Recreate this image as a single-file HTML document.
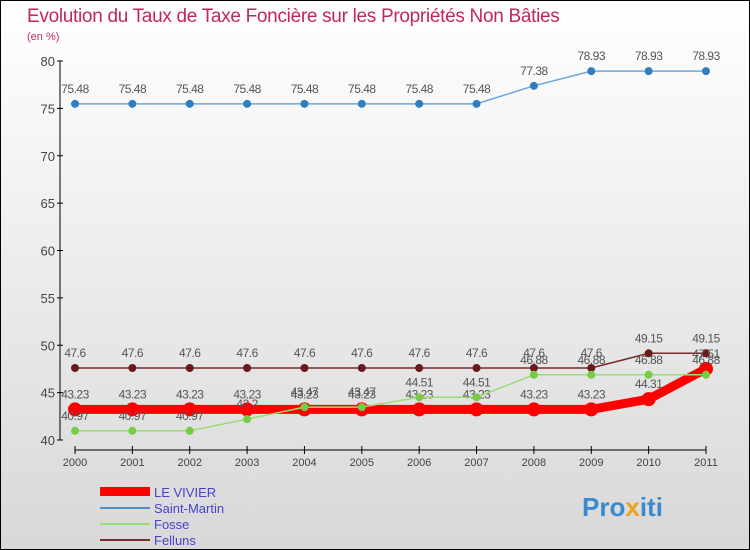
<!DOCTYPE html>
<html><head><meta charset="utf-8"><style>
body{margin:0}
#c{width:750px;height:550px;position:relative;box-sizing:border-box;border:1px solid #000;background:linear-gradient(#fff,#d8d8d8);font-family:"Liberation Sans",sans-serif;overflow:hidden}
</style></head><body>
<div id="c">
<svg id="s" width="750" height="550" style="position:absolute;left:-1px;top:-1px">
<text x="27" y="22" font-size="19" fill="#c02858" letter-spacing="-0.3">Evolution du Taux de Taxe Foncière sur les Propriétés Non Bâties</text>
<text x="27" y="40" font-size="11" fill="#c0305a">(en %)</text>
<g id="axes"></g><g id="series"></g>
<g>
<rect x="100" y="487" width="50" height="9" fill="#f00"/>
<text x="154" y="497" font-size="13" fill="#4444cc">LE VIVIER</text>
<line x1="100" y1="508" x2="150" y2="508" stroke="#4d8fc8" stroke-width="2"/>
<text x="154" y="513" font-size="13" fill="#4444cc">Saint-Martin</text>
<line x1="100" y1="524" x2="150" y2="524" stroke="#99dd77" stroke-width="2"/>
<text x="154" y="529" font-size="13" fill="#4444cc">Fosse</text>
<line x1="100" y1="540" x2="150" y2="540" stroke="#7a2a2a" stroke-width="2"/>
<text x="154" y="545" font-size="13" fill="#4444cc">Felluns</text>
</g>
<text x="582" y="516" font-size="26" font-weight="bold" fill="#3a8ad0">Pro<tspan fill="#f0a020">x</tspan>iti</text>
</svg>
</div>
<script>
const years=[2000,2001,2002,2003,2004,2005,2006,2007,2008,2009,2010,2011];
const yTicks=[40,45,50,55,60,65,70,75,80];
const leVivier=[43.23,43.23,43.23,43.23,43.23,43.23,43.23,43.23,43.23,43.23,44.31,47.51];
const saintMartin=[75.48,75.48,75.48,75.48,75.48,75.48,75.48,75.48,77.38,78.93,78.93,78.93];
const fosse=[40.97,40.97,40.97,42.2,43.47,43.47,44.51,44.51,46.88,46.88,46.88,46.88];
const felluns=[47.6,47.6,47.6,47.6,47.6,47.6,47.6,47.6,47.6,47.6,49.15,49.15];
const NS="http://www.w3.org/2000/svg";
const X=i=>75+i*(706-75)/(years.length-1);
const Y=v=>440-(v-40)*(440-61)/40;
function mk(t,a,p){const e=document.createElementNS(NS,t);for(const k in a)e.setAttribute(k,a[k]);p.appendChild(e);return e;}
const ax=document.getElementById('axes');
const yl=mk('line',{x1:60,y1:61,x2:60,y2:440,stroke:'#000'},ax);


yTicks.forEach(v=>{
  mk('line',{x1:57,y1:Y(v),x2:63,y2:Y(v),stroke:'#000'},ax);
  const t=mk('text',{x:55,y:Y(v)+5,'font-size':13,'text-anchor':'end',fill:'#444'},ax);
  t.textContent=v;
  
  
});
const xl=mk('line',{x1:75,y1:450,x2:706,y2:450,stroke:'#000'},ax);


years.forEach((y,i)=>{
  mk('line',{x1:X(i),y1:446,x2:X(i),y2:454,stroke:'#000'},ax);
  const t=mk('text',{x:X(i),y:466,'font-size':11,'text-anchor':'middle',fill:'#444'},ax);
  t.textContent=y;
  
  
});
const sg=document.getElementById('series');
function series(name,vals,color,w,r,dot){
  const g=mk('g',{},sg);
  
  
  const p=mk('polyline',{points:vals.map((v,i)=>X(i)+','+Y(v)).join(' '),fill:'none',stroke:color,'stroke-width':w},g);
  
  
  vals.forEach((v,i)=>{
    const c=mk('circle',{cx:X(i),cy:Y(v),r:r,fill:dot},g);
    
    
    const t=mk('text',{x:X(i),y:Y(v)-11,'font-size':12,'letter-spacing':'-0.5','text-anchor':'middle',fill:'#555'},g);
    t.textContent=v;
    
    
  });
}
series('saint-martin',saintMartin,'#6fa6d8',1.5,4,'#2f7fc0');
series('felluns',felluns,'#7a2a2a',1.5,4,'#6a1a1a');
series('le-vivier',leVivier,'#f00',9,7,'#f00');
series('fosse',fosse,'#99dd77',1.5,4,'#77cc44');
</script>
</body></html>
